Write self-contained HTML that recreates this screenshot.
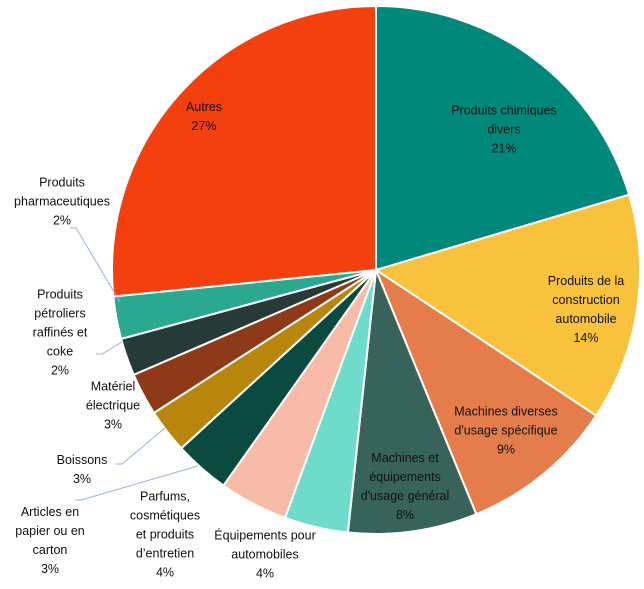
<!DOCTYPE html>
<html><head><meta charset="utf-8">
<style>
body{margin:0;background:#fff;width:644px;height:589px;overflow:hidden;font-family:"Liberation Sans",sans-serif}
#wrap{position:relative;width:644px;height:589px}
.lbl{position:absolute;transform:translate(-50%,-50%);text-align:center;font-size:12.5px;line-height:19px;color:#111;white-space:nowrap}
svg{position:absolute;left:0;top:0}
</style></head>
<body>
<div id="wrap">
<svg id="chart" width="644" height="589"></svg>
<div class="lbl" style="left:504px;top:130px">Produits chimiques<br>divers<br>21%</div>
<div class="lbl" style="left:586px;top:310px">Produits de la<br>construction<br>automobile<br>14%</div>
<div class="lbl" style="left:506px;top:431px">Machines diverses<br>d'usage spécifique<br>9%</div>
<div class="lbl" style="left:405px;top:487px">Machines et<br>équipements<br>d'usage général<br>8%</div>
<div class="lbl" style="left:265px;top:555px">Équipements pour<br>automobiles<br>4%</div>
<div class="lbl" style="left:165px;top:535px">Parfums,<br>cosmétiques<br>et produits<br>d’entretien<br>4%</div>
<div class="lbl" style="left:50px;top:541px">Articles en<br>papier ou en<br>carton<br>3%</div>
<div class="lbl" style="left:82px;top:470px">Boissons<br>3%</div>
<div class="lbl" style="left:113px;top:406px">Matériel<br>électrique<br>3%</div>
<div class="lbl" style="left:60px;top:333px">Produits<br>pétroliers<br>raffinés et<br>coke<br>2%</div>
<div class="lbl" style="left:62px;top:202px">Produits<br>pharmaceutiques<br>2%</div>
<div class="lbl" style="left:204px;top:117px">Autres<br>27%</div>
</div>
<script>
const categories=["Produits chimiques divers","Produits de la construction automobile","Machines diverses d'usage spécifique","Machines et équipements d'usage général","Équipements pour automobiles","Parfums, cosmétiques et produits d'entretien","Articles en papier ou en carton","Boissons","Matériel électrique","Produits pétroliers raffinés et coke","Produits pharmaceutiques","Autres"];
const values=[20.4,13.9,9.5,7.9,3.9,4.2,3.4,2.7,2.6,2.3,2.6,26.6];
const colors=["#00897b","#f9c23c","#e47c4c","#37635a","#6fdccb","#f7bba8","#0b4a3f","#b8860b","#8e3a18","#263a37","#2aa890","#f4400f"];
const NS="http://www.w3.org/2000/svg";
const svg=document.getElementById('chart');
const cx=376,cy=270,r=264;
const total=values.reduce((a,b)=>a+b,0);
function pt(a){return [cx+r*Math.sin(a),cy-r*Math.cos(a)];}
let acc=0;
values.forEach((v,i)=>{
  const a0=acc/total*2*Math.PI;acc+=v;const a1=acc/total*2*Math.PI;
  const p0=pt(a0),p1=pt(a1);const large=(a1-a0)>Math.PI?1:0;
  const p=document.createElementNS(NS,'path');
  p.setAttribute('d',`M${cx},${cy}L${p0[0]},${p0[1]}A${r},${r} 0 ${large} 1 ${p1[0]},${p1[1]}Z`);
  p.setAttribute('fill',colors[i]);p.setAttribute('stroke','#fff');p.setAttribute('stroke-width','2');
  
  
  svg.appendChild(p);
});
const leaders=[[70,228,120,302],[96,354,122,342],[116,464,165,428],[75,500,198,466]];
leaders.forEach((l,i)=>{
  const ln=document.createElementNS(NS,'polyline');
  ln.setAttribute('points',`${l[0]},${l[1]} ${l[0]+6},${l[1]} ${l[2]},${l[3]}`);
  ln.setAttribute('fill','none');ln.setAttribute('stroke','#9bb0e0');ln.setAttribute('stroke-width','1');
  
  
  svg.appendChild(ln);
});
</script>
</body></html>
